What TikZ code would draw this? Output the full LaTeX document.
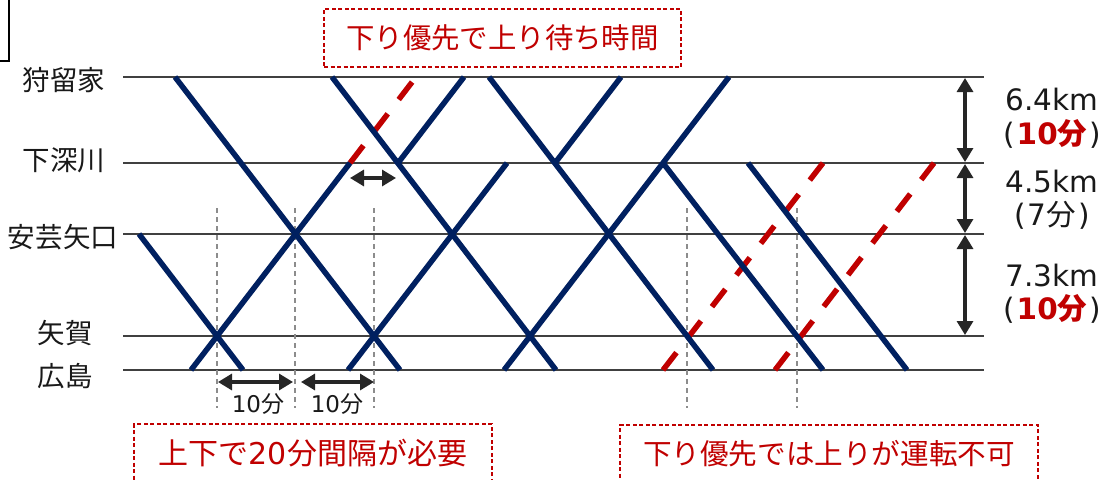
\documentclass[tikz,border=0pt]{standalone}
\usepackage{fontspec}
\setmainfont{DejaVu Sans}
\newfontfamily\jp{Noto Sans CJK JP}
\newfontfamily\lat{DejaVu Sans}
\usetikzlibrary{arrows.meta}
\definecolor{navy}{HTML}{002060}
\definecolor{dred}{HTML}{C00000}
\definecolor{dgray}{HTML}{262626}
\definecolor{lgray}{HTML}{404040}
\definecolor{vgray}{HTML}{8C8C8C}
\newcommand{\lpar}{{\lat (}\kern2pt}
\newcommand{\rpar}{\kern2pt{\lat )}}
\tikzset{
  station/.style={draw=lgray, line width=1.4pt},
  train/.style={draw=navy, line width=5.5pt},
  blocked/.style={draw=dred, line width=5.5pt, dash pattern=on 22pt off 18pt},
  guide/.style={draw=vgray, line width=1.2pt, dash pattern=on 5pt off 4pt},
  spanarrow/.style={draw=dgray, line width=3.2pt, {Triangle[width=16pt,length=14pt]}-{Triangle[width=16pt,length=14pt]}},
  notebox/.style={draw=dred, line width=1.5pt, dash pattern=on 4pt off 2.5pt, inner sep=0pt, text=dred},
  stlabel/.style={font=\jp\fontsize{27.5}{30}\selectfont, text=black!90, inner sep=0pt},
  rlabel/.style={font=\lat\fontsize{29.5}{31}\selectfont, text=black!90, inner sep=0pt},
  minlabel/.style={font=\lat\fontsize{23}{25}\selectfont, text=black!90, inner sep=0pt}
}
\begin{document}
\begin{tikzpicture}[x=1pt,y=-1pt]
\clip (0,0) rectangle (1107,479);
\fill[white] (0,0) rectangle (1107,479);

% partial frame at top-left
\coordinate (f1) at (9,0);
\coordinate (f2) at (9,61);
\coordinate (f3) at (0,61);
\draw[black, line width=1.6pt] (f1) -- (f2) -- (f3);

% stations
\foreach \n/\y in {K/77, S/163, A/234, Y/336, H/370}{
  \coordinate (\n L) at (123,\y);
  \coordinate (\n R) at (984,\y);
  \draw[station] (\n L) -- (\n R);
}
\node[stlabel] (lK) at (64,80) {{\jp 狩留家}};
\node[stlabel] (lS) at (64,160) {{\jp 下深川}};
\node[stlabel] (lA) at (63,237) {{\jp 安芸矢口}};
\node[stlabel] (lY) at (65,333) {{\jp 矢賀}};
\node[stlabel] (lH) at (65,376) {{\jp 広島}};

% guide lines
\foreach \i/\x in {1/217, 2/295, 3/374, 4/687, 5/797}{
  \coordinate (g\i t) at (\x,208);
  \coordinate (g\i b) at (\x,408);
  \draw[guide] (g\i t) -- (g\i b);
}

% trains
\coordinate (L0a) at (139,234);  \coordinate (L0b) at (243,370);
\coordinate (Aa) at (175,77);    \coordinate (Ab) at (400,370);
\coordinate (Ba) at (191,370);   \coordinate (Bb) at (350,163);
\coordinate (Bc) at (416,77);
\coordinate (Da) at (398,163);   \coordinate (Db) at (464,77);
\coordinate (Ca) at (332,77);    \coordinate (Cb) at (556,370);
\coordinate (Ea) at (348,370);   \coordinate (Eb) at (507,163);
\coordinate (Fa) at (489,77);    \coordinate (Fb) at (713,370);
\coordinate (Ua) at (555,163);   \coordinate (Ub) at (621,77);
\coordinate (Ga) at (504,370);   \coordinate (Gb) at (729,77);
\coordinate (Ha) at (663,163);   \coordinate (Hb) at (823,370);
\coordinate (Ia) at (748,163);   \coordinate (Ib) at (907,370);
\coordinate (R1a) at (663,370);  \coordinate (R1b) at (823,163);
\coordinate (R2a) at (775,370);  \coordinate (R2b) at (934,163);

\draw[blocked] (Bb) -- (Bc);
\draw[blocked] (R1a) -- (R1b);
\draw[blocked] (R2a) -- (R2b);
\foreach \p in {L0, A, C, E, F, U, G, H, I, D}{
  \draw[train] (\p a) -- (\p b);
}
\draw[train] (Ba) -- (Bb);

% waiting arrow at 下深川
\coordinate (w1) at (350,178);
\coordinate (w2) at (396,178);
\draw[spanarrow] (w1) -- (w2);

% 10 min arrows
\coordinate (m1a) at (218,382); \coordinate (m1b) at (293,382);
\coordinate (m2a) at (301,382); \coordinate (m2b) at (374,382);
\draw[spanarrow] (m1a) -- (m1b);
\draw[spanarrow] (m2a) -- (m2b);
\node[minlabel] (t1) at (258,404) {10{\jp 分}};
\node[minlabel] (t2) at (337,404) {10{\jp 分}};

% right distance arrows
\coordinate (d0) at (965,78);
\coordinate (d1a) at (965,162); \coordinate (d1b) at (965,164);
\coordinate (d2a) at (965,233); \coordinate (d2b) at (965,235);
\coordinate (d3) at (965,335);
\draw[spanarrow] (d0) -- (d1a);
\draw[spanarrow] (d1b) -- (d2a);
\draw[spanarrow] (d2b) -- (d3);

\node[rlabel] (k1) at (1052,100) {6.4km};
\node[rlabel] (n1) at (1052,134) {\lpar\textcolor{dred}{\bfseries 10{\jp\bfseries 分}}\rpar};
\node[rlabel] (k2) at (1052,181) {4.5km};
\node[rlabel] (n2) at (1052,215) {\lpar 7{\jp 分}\rpar};
\node[rlabel] (k3) at (1052,275) {7.3km};
\node[rlabel] (n3) at (1052,309) {\lpar\textcolor{dred}{\bfseries 10{\jp\bfseries 分}}\rpar};

% note boxes
\node[notebox, minimum width=357pt, minimum height=58pt] (nb1) at (502.5,38)
  {\jp\fontsize{28.4}{30}\selectfont 下り優先で上り待ち時間};
\node[notebox, minimum width=358pt, minimum height=58pt] (nb2) at (313,453)
  {\fontsize{30}{32}\selectfont{\jp 上下で}{\lat 20}{\jp 分間隔が必要}};
\node[notebox, minimum width=418pt, minimum height=58pt] (nb3) at (829,454)
  {\jp\fontsize{28.6}{30}\selectfont 下り優先では上りが運転不可};
\end{tikzpicture}
\end{document}
